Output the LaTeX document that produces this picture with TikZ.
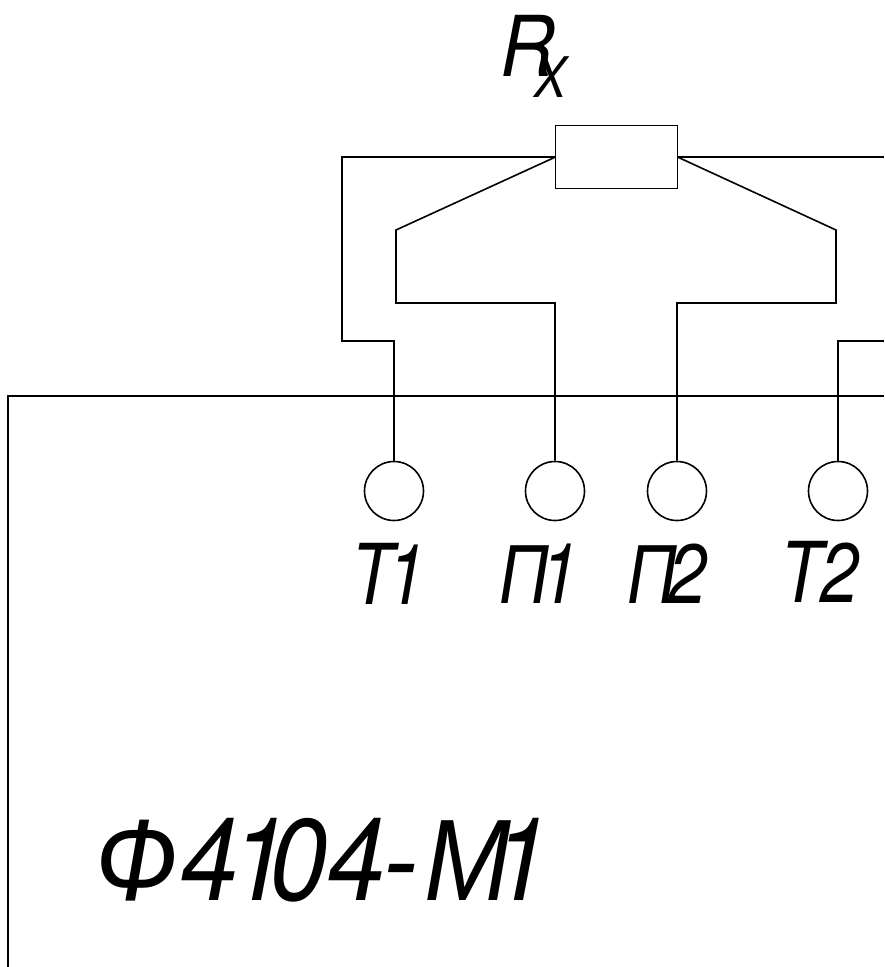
\documentclass[tikz,border=0pt]{standalone}
\usepackage{fontspec}
\setmainfont{TeX Gyre Heros}
\newfontfamily\cyr{Liberation Sans}
\newcommand{\squeezed}[2]{\scalebox{#1}[1]{#2}}
\begin{document}
\begin{tikzpicture}[x=1pt,y=-1pt,
wire/.style={draw=black,line width=1.6pt},
term/.style={circle,draw=black,line width=1.6pt,minimum size=59pt,inner sep=0pt},
lab/.style={inner sep=0pt,anchor=base west},
midfont/.style={font=\itshape\fontsize{84}{84}\selectfont},
bigfont/.style={font=\itshape\fontsize{116}{116}\selectfont},
subfont/.style={font=\itshape\fontsize{56}{56}\selectfont},
]
\useasboundingbox (0,0) rectangle (884,967);
\node[wire,minimum width=122pt,minimum height=63pt,inner sep=0pt] (rx) at (616.5,157) {};
\node[term] (t1) at (394,491) {};
\node[term] (p1) at (555,491) {};
\node[term] (p2) at (677,491) {};
\node[term] (t2) at (838,491) {};
\coordinate (lt) at (555.5,157);
\coordinate (rt) at (677.5,157);
\coordinate (tl) at (342,157);
\coordinate (tl2) at (342,341);
\coordinate (tl3) at (394,341);
\coordinate (tr) at (884,157);
\coordinate (tr2) at (884,341);
\coordinate (tr3) at (838,341);
\coordinate (a1) at (396,230);
\coordinate (a2) at (396,303);
\coordinate (a3) at (555,303);
\coordinate (b1) at (836,230);
\coordinate (b2) at (836,303);
\coordinate (b3) at (677,303);
\draw[wire] (lt) -- (tl) -- (tl2) -- (tl3) -- (t1.north);
\draw[wire] (rt) -- (tr);
\draw[wire] (tr2) -- (tr3) -- (t2.north);
\draw[wire] (lt) -- (a1) -- (a2) -- (a3) -- (p1.north);
\draw[wire] (rt) -- (b1) -- (b2) -- (b3) -- (p2.north);
\coordinate (c1) at (884,396);
\coordinate (c2) at (8,396);
\coordinate (c3) at (8,967);
\draw[wire] (c1) -- (c2) -- (c3);
\node[lab,midfont] (rxl) at (500,76) {\squeezed{0.9}{R}};
\node[lab,subfont] (xl) at (534,97) {\squeezed{0.85}{X}};
\node[lab,midfont] (lt1) at (351,604) {\squeezed{0.82}{T\kern-0.09em 1}};
\node[lab,midfont] (lp1) at (499,603) {\squeezed{0.82}{{\cyr П}\kern-0.13em 1}};
\node[lab,midfont] (lp2) at (627,603) {\squeezed{0.82}{{\cyr П}\kern-0.12em 2}};
\node[lab,midfont] (lt2) at (780,602) {\squeezed{0.82}{T\kern-0.02em 2}};
\node[lab,bigfont] (name) at (95,900) {\squeezed{0.9}{{\cyr Ф}\kern0.02em 4\kern-0.08em 1\kern-0.18em 04\kern-0.02em -\kern0.06em {\cyr М}\kern-0.18em 1}};
\end{tikzpicture}
\end{document}
